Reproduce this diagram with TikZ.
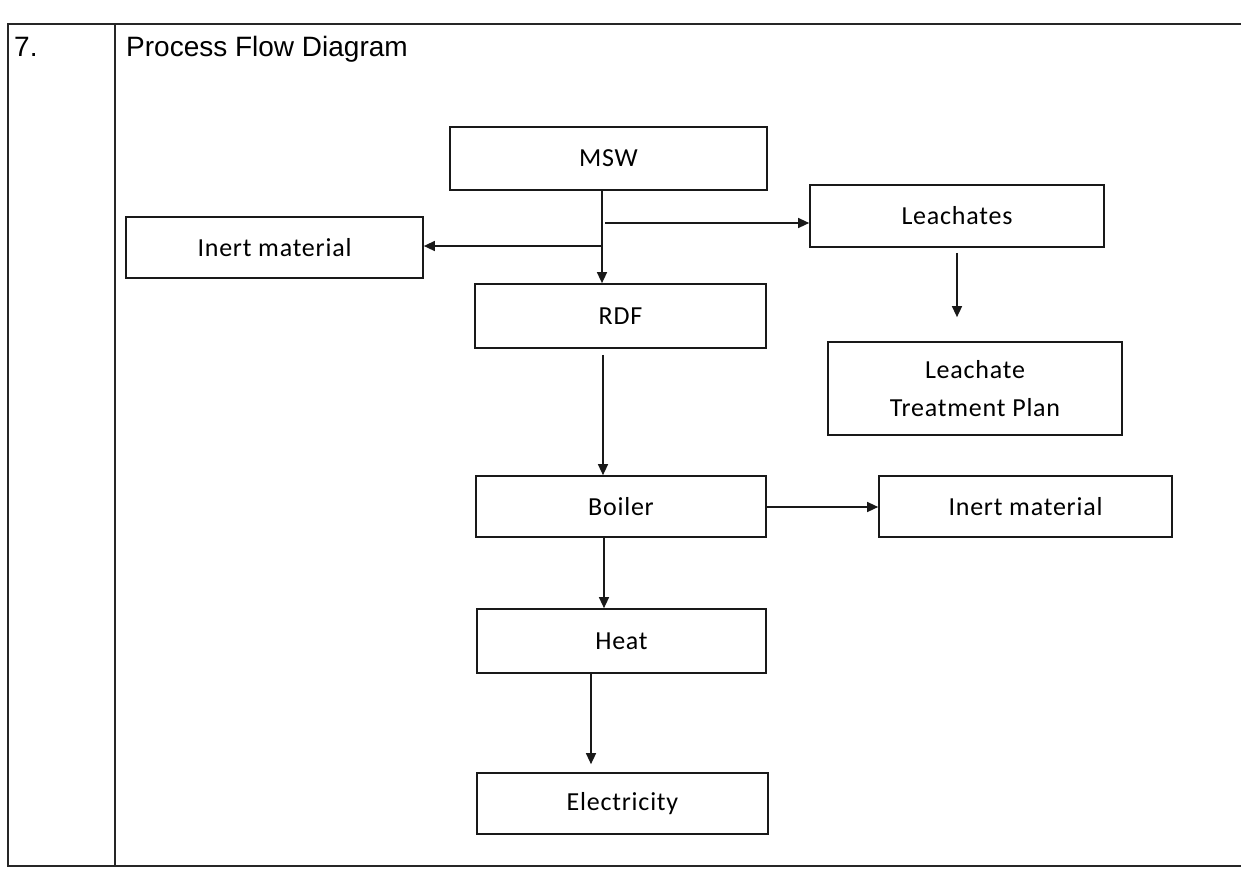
\documentclass[tikz,border=0pt]{standalone}
\usepackage{fontspec}
\setmainfont{Liberation Sans}
\newfontfamily\boxfont[LetterSpace=3]{Carlito}
\usetikzlibrary{arrows.meta,calc}
\tikzset{
  frame/.style={line width=1.8pt, draw=black!85},
  pbox/.style={draw=black!90, line width=1.7pt, fill=white, inner sep=0pt, align=center,
    font=\boxfont\fontsize{26}{38}\selectfont},
  flow/.style={line width=1.4pt, draw=black!90, -{Triangle[length=11pt,width=10pt]}},
  title/.style={font=\fontsize{28}{34}\selectfont, anchor=base west, inner sep=0pt}
}
\newcommand{\boxat}[6]{% name, x1, y1, x2, y2, text
  \node[pbox, minimum width={#4-#2}, minimum height={#5-#3}] (#1) at ({(#2+#4)/2},{(#3+#5)/2}) {#6};}
\begin{document}
\begin{tikzpicture}[x=1pt,y=-1pt]
\useasboundingbox[fill=white] (0,0) rectangle (1241,868);
% table frame
\draw[frame] (1241,24) -- (8,24) -- (8,866) -- (1241,866);
\draw[frame] (115,24) -- (115,866);
\node[title] (num) at (14,56) {7.};
\node[title] (ttl) at (126,56) {Process Flow Diagram};
% boxes
\boxat{msw}{450}{127}{767}{190}{MSW}
\boxat{inl}{126}{217}{423}{278}{Inert material}
\boxat{lea}{810}{185}{1104}{247}{Leachates}
\boxat{ltp}{828}{342}{1122}{435}{Leachate\\Treatment Plan}
\boxat{rdf}{475}{284}{766}{348}{RDF}
\boxat{boi}{476}{476}{766}{537}{Boiler}
\boxat{inr}{879}{476}{1172}{537}{Inert material}
\boxat{hea}{477}{609}{766}{673}{Heat}
\boxat{ele}{477}{773}{768}{834}{Electricity}
% helper coordinates
\coordinate (j1) at (602,246);
\coordinate (j2) at (605,223);
\coordinate (xl) at (957,0);
\coordinate (xr) at (603,0);
\coordinate (yb) at (0,507);
\coordinate (xb) at (604,0);
\coordinate (xh) at (591,0);
% connectors
\draw[line width=1.4pt, draw=black!90] (j1 |- msw.south) -- (j1);
\draw[flow] (j1) -- (j1 |- rdf.north);
\draw[flow] (j1) -- (j1 -| inl.east);
\draw[flow] (j2) -- (j2 -| lea.west);
\draw[flow, shorten <=5pt, shorten >=24pt] (xl |- lea.south) -- (xl |- ltp.north);
\draw[flow, shorten <=6pt] (xr |- rdf.south) -- (xr |- boi.north);
\draw[flow] (yb -| boi.east) -- (yb -| inr.west);
\draw[flow] (xb |- boi.south) -- (xb |- hea.north);
\draw[flow, shorten >=8pt] (xh |- hea.south) -- (xh |- ele.north);
\end{tikzpicture}
\end{document}
